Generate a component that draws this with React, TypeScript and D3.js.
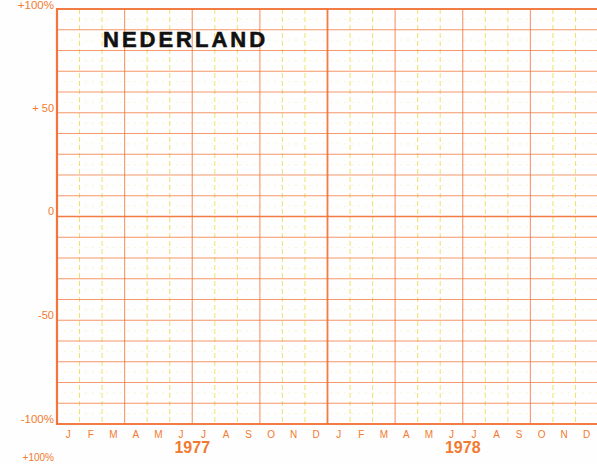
import React from "react";
import * as d3 from "d3";

const years = ["1977", "1978"];
const months = ["J", "F", "M", "A", "M", "J", "J", "A", "S", "O", "N", "D"];
const yTickValues = [100, 50, 0, -50, -100];
const yTickLabels = ["+100%", "+ 50", "0", "-50", "-100%"];
const title = "NEDERLAND";

const W = 597;
const H = 464;
const ORANGE = "#f2763a";
const ORANGE_TXT = "#f27a2e";
const YELLOW = "#eedd55";

export default function App() {
  const nMonths = years.length * 12;
  const x = d3.scaleLinear().domain([0, nMonths]).range([57, 598]);
  const y = d3.scaleLinear().domain([-100, 100]).range([424, 9]);

  const majorH = d3.range(-100, 101, 10);
  const minorH = d3.range(-95, 100, 10);
  const monthV = d3.range(0, nMonths + 1);
  const font = "'Liberation Sans', Arial, sans-serif";

  return (
    <svg
      width={W}
      height={H}
      style={{ position: "absolute", left: 0, top: 0, background: "#fff" }}
    >
      <rect x={0} y={0} width={W} height={H} fill="#fefefe" />
      {/* minor horizontal lines */}
      {minorH.map((v) => (
        <line
          key={"mh" + v}
          x1={x(0)}
          x2={x(nMonths)}
          y1={y(v)}
          y2={y(v)}
          stroke={YELLOW}
          strokeWidth={0.8}
          strokeDasharray="2 5"
          opacity={0.35}
        />
      ))}
      {/* month vertical lines */}
      {monthV.map((m) => {
        const isYear = m % 12 === 0;
        const isQuarter = m % 3 === 0;
        return (
          <line
            key={"v" + m}
            x1={x(m)}
            x2={x(m)}
            y1={y(100)}
            y2={y(-100)}
            stroke={isQuarter ? ORANGE : YELLOW}
            strokeWidth={isYear ? 1.8 : isQuarter ? 1.1 : 1}
            strokeDasharray={isQuarter ? undefined : "5 3"}
            opacity={isQuarter ? (isYear ? 0.95 : 0.75) : 0.85}
          />
        );
      })}
      {/* major horizontal lines */}
      {majorH.map((v) => {
        const edge = Math.abs(v) === 100;
        return (
          <line
            key={"h" + v}
            x1={x(0)}
            x2={x(nMonths)}
            y1={y(v)}
            y2={y(v)}
            stroke={ORANGE}
            strokeWidth={edge ? 2 : v === 0 ? 1.6 : 1.1}
            opacity={edge || v === 0 ? 0.95 : 0.75}
          />
        );
      })}
      {/* left edge */}
      <line x1={x(0)} x2={x(0)} y1={y(100) - 1} y2={y(-100) + 1} stroke={ORANGE} strokeWidth={2.2} />

      {/* y tick labels */}
      {yTickValues.map((v, i) => (
        <text
          key={"yl" + v}
          x={54}
          y={v === 100 ? 6 : y(v) - 4}
          textAnchor="end"
          dominantBaseline="middle"
          fill={ORANGE_TXT}
          fontFamily={font}
          fontSize={Math.abs(v) === 100 ? 11.5 : 11}
        >
          {yTickLabels[i]}
        </text>
      ))}
      {/* next chart's top label */}
      <text
        x={54}
        y={458}
        textAnchor="end"
        dominantBaseline="middle"
        fill={ORANGE_TXT}
        fontFamily={font}
        fontSize={10}
      >
        {yTickLabels[0]}
      </text>

      {/* month labels */}
      {years.map((yr, yi) =>
        months.map((m, mi) => (
          <text
            key={yr + mi}
            x={x(yi * 12 + mi + 0.5)}
            y={435}
            textAnchor="middle"
            dominantBaseline="middle"
            fill={ORANGE_TXT}
            fontFamily={font}
            fontSize={10}
          >
            {m}
          </text>
        ))
      )}
      {/* year labels */}
      {years.map((yr, yi) => (
        <text
          key={"yr" + yr}
          x={x(yi * 12 + 6)}
          y={449}
          textAnchor="middle"
          dominantBaseline="middle"
          fill={ORANGE_TXT}
          fontFamily={font}
          fontWeight="bold"
          fontSize={16}
        >
          {yr}
        </text>
      ))}

      {/* title */}
      <text
        x={103}
        y={41}
        dominantBaseline="middle"
        fill="#111"
        fontFamily={font}
        fontWeight="bold"
        fontSize={22}
        letterSpacing={3}
        stroke="#111"
        strokeWidth={0.6}
      >
        {title}
      </text>
    </svg>
  );
}
